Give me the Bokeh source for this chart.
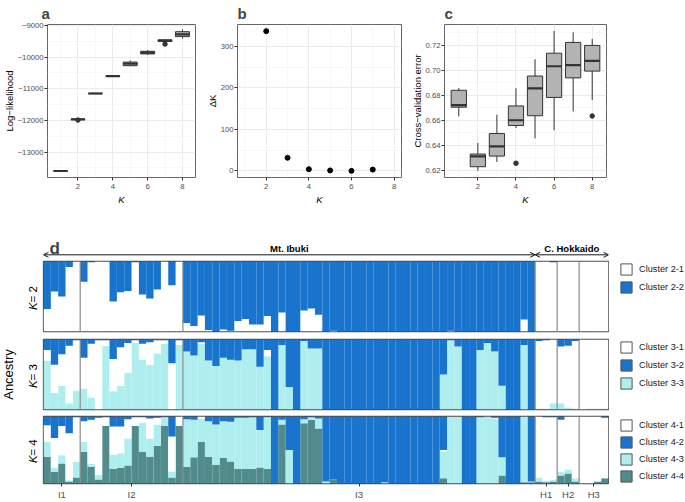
import math
import numpy as np
from bokeh.plotting import figure
from bokeh.models import (ColumnDataSource, FixedTicker, Label, Legend, LegendItem,
                          Arrow, OpenHead, Range1d, PrintfTickFormatter)
from bokeh.layouts import column, row
from bokeh.embed import file_html
from bokeh.resources import INLINE
from bokeh.core.properties import value

FONT = "Liberation Sans"

# ---------------- panel a: log-likelihood boxplots ----------------
K_vals = [1, 2, 3, 4, 5, 6, 7, 8]
ll_lo  = [-13615, -11985, -11165, -10618, -10290, -9920, -9515, -9413]
ll_q1  = [-13608, -11975, -11158, -10610, -10271, -9899, -9506, -9351]
ll_med = [-13600, -11966, -11150, -10602, -10209, -9858, -9475, -9279]
ll_q3  = [-13592, -11958, -11142, -10594, -10158, -9816, -9455, -9196]
ll_hi  = [-13585, -11950, -11135, -10586, -10106, -9780, -9445, -9124]
ll_out_k = [2, 7]
ll_out_v = [-11990, -9589]
ll_ticks = [-13000, -12000, -11000, -10000, -9000]
ll_minor = [-13500, -12500, -11500, -10500, -9500]
ll_labels = ["\u221213000", "\u221212000", "\u221211000", "\u221210000", "\u22129000"]

# ---------------- panel b: delta K ----------------
dk_k = [2, 3, 4, 5, 6, 7]
dk_v = [337, 31.6, 4, 1, 0, 3]

# ---------------- panel c: cross-validation error ----------------
cv_lo  = [0.6631, 0.6197, 0.6267, 0.6538, 0.6455, 0.6520, 0.6670, 0.6761]
cv_q1  = [0.6704, 0.6229, 0.6314, 0.6558, 0.6636, 0.6782, 0.6938, 0.6992]
cv_med = [0.6720, 0.6312, 0.6392, 0.6600, 0.6855, 0.7031, 0.7039, 0.7073]
cv_q3  = [0.6839, 0.6330, 0.6494, 0.6714, 0.6953, 0.7135, 0.7221, 0.7197]
cv_hi  = [0.6857, 0.6418, 0.6644, 0.6855, 0.7086, 0.7312, 0.7301, 0.7249]
cv_out_k = [4, 8]
cv_out_v = [0.6257, 0.6634]

# ---------------- panel d: ancestry proportions ----------------
pop_names = ["I1", "I2", "I3", "H1", "H2", "H3"]
pop_sizes = [5, 14, 48, 3, 3, 4]

# K = 2 : Cluster 2-1 (white), Cluster 2-2 (blue)
k2_c1 = ([0.32, 0.57, 0.50, 0.92, 1.00] +
         [0.71, 0.99, 1.00, 1.00, 0.43, 0.56, 0.58, 0.99, 0.53, 0.47, 0.60, 1.00, 0.66, 1.00] +
         [0.12, 0.08, 0.23, 0.02, 0.00, 0.03, 0.01, 0.15, 0.18, 0.10, 0.10, 0.22, 0.00, 0.27,
          0.00, 0.00, 0.30, 0.33, 0.24, 0.00, 0.01] + [0.00] * 15 + [0.01] + [0.00] * 9 + [0.17, 0.00] +
         [1.00, 1.00, 0.99] + [1.00, 1.00, 1.00] + [1.00, 1.00, 1.00, 1.00])
k2_c2 = ([0.68, 0.43, 0.50, 0.08, 0.00] +
         [0.29, 0.01, 0.00, 0.00, 0.57, 0.44, 0.42, 0.01, 0.47, 0.53, 0.40, 0.00, 0.34, 0.00] +
         [0.88, 0.92, 0.77, 0.98, 1.00, 0.97, 0.99, 0.85, 0.82, 0.90, 0.90, 0.78, 1.00, 0.73,
          1.00, 1.00, 0.70, 0.67, 0.76, 1.00, 0.99] + [1.00] * 15 + [0.99] + [1.00] * 9 + [0.83, 1.00] +
         [0.00, 0.00, 0.01] + [0.00, 0.00, 0.00] + [0.00, 0.00, 0.00, 0.00])

# K = 3 : Cluster 3-1 (white), 3-2 (blue), 3-3 (cyan)
k3_c3 = ([0.70, 0.24, 0.34, 0.09, 0.27] +
         [0.30, 0.17, 0.00, 0.91, 0.26, 0.34, 0.52, 0.95, 0.71, 0.64, 0.80, 0.94, 0.00, 0.92] +
         [0.83, 0.77, 0.94, 0.70, 0.62, 0.74, 0.71, 0.70, 0.86, 0.86, 0.61, 0.76, 0.00, 0.92,
          0.32, 0.00, 0.98, 0.87, 0.87] +
         [0.00] * 16 + [0.50, 0.99, 0.90, 0.00, 0.00, 0.85, 0.95, 0.82, 0.34, 0.00, 0.00, 0.92, 0.00] +
         [0.01, 0.01, 0.09] + [0.09, 0.03, 0.01] + [0.00, 0.01, 0.01, 0.01])
k3_c1 = ([0.15, 0.40, 0.45, 0.82, 0.72] +
         [0.44, 0.77, 0.99, 0.08, 0.46, 0.55, 0.43, 0.04, 0.23, 0.32, 0.19, 0.05, 0.66, 0.07] +
         [0.00, 0.00, 0.02, 0.00, 0.00, 0.00, 0.00, 0.00, 0.00, 0.00, 0.00, 0.09, 0.00, 0.00,
          0.00, 0.00, 0.00, 0.00, 0.00] +
         [0.00] * 16 + [0.00, 0.00, 0.00, 0.00, 0.00, 0.00, 0.00, 0.01, 0.00, 0.00, 0.00, 0.00, 0.00] +
         [0.97, 0.98, 0.91] + [0.81, 0.88, 0.97] + [1.00, 0.99, 0.99, 0.99])
k3_c2 = ([0.15, 0.36, 0.21, 0.09, 0.01] +
         [0.26, 0.06, 0.01, 0.01, 0.28, 0.11, 0.05, 0.01, 0.06, 0.04, 0.01, 0.01, 0.34, 0.01] +
         [0.17, 0.23, 0.04, 0.30, 0.38, 0.26, 0.29, 0.30, 0.14, 0.14, 0.39, 0.15, 1.00, 0.08,
          0.68, 1.00, 0.02, 0.13, 0.13] +
         [1.00] * 16 + [0.50, 0.01, 0.10, 1.00, 1.00, 0.15, 0.05, 0.17, 0.66, 1.00, 1.00, 0.08, 1.00] +
         [0.02, 0.01, 0.00] + [0.10, 0.09, 0.02] + [0.00, 0.00, 0.00, 0.00])

# K = 4 : Cluster 4-1 (white), 4-2 (blue), 4-3 (cyan), 4-4 (teal)
k4_c4 = ([0.40, 0.17, 0.30, 0.03, 0.09] +
         [0.47, 0.25, 0.06, 0.86, 0.22, 0.23, 0.27, 0.86, 0.47, 0.40, 0.56, 0.86, 0.09, 0.86] +
         [0.25, 0.39, 0.62, 0.40, 0.28, 0.38, 0.33, 0.22, 0.22, 0.22, 0.24, 0.22, 0.00, 0.88,
          0.00, 0.00, 0.90, 0.95, 0.82] +
         [0.00, 0.06, 0.00, 0.00, 0.00, 0.00, 0.00, 0.00, 0.00, 0.00, 0.00, 0.00, 0.00, 0.00,
          0.00, 0.00, 0.08, 0.00, 0.00, 0.00, 0.00, 0.00, 0.00, 0.00, 0.12, 0.00, 0.00, 0.02, 0.02] +
         [0.03, 0.02, 0.03] + [0.12, 0.15, 0.03] + [0.00, 0.00, 0.03, 0.08])
k4_c3 = ([0.22, 0.07, 0.12, 0.02, 0.23] +
         [0.15, 0.04, 0.07, 0.00, 0.21, 0.22, 0.40, 0.00, 0.44, 0.27, 0.32, 0.12, 0.09, 0.00] +
         [0.71, 0.56, 0.35, 0.53, 0.60, 0.55, 0.59, 0.76, 0.76, 0.77, 0.56, 0.76, 0.00, 0.07,
          0.50, 0.00, 0.06, 0.04, 0.15] +
         [0.03, 0.00, 0.00, 0.00, 0.00, 0.00, 0.00, 0.00, 0.02, 0.00, 0.00, 0.00, 0.00, 0.00,
          0.00, 0.00, 0.40, 1.00, 1.00, 0.00, 0.00, 0.99, 1.00, 0.97, 0.27, 0.00, 0.00, 0.98, 0.01] +
         [0.06, 0.02, 0.03] + [0.06, 0.06, 0.05] + [0.00, 0.00, 0.00, 0.00])
k4_c1 = ([0.25, 0.44, 0.44, 0.70, 0.67] +
         [0.31, 0.66, 0.85, 0.13, 0.42, 0.40, 0.29, 0.13, 0.08, 0.30, 0.10, 0.01, 0.52, 0.14] +
         [0.00, 0.00, 0.03, 0.00, 0.00, 0.00, 0.00, 0.00, 0.00, 0.00, 0.00, 0.01, 0.00, 0.00,
          0.00, 0.00, 0.00, 0.00, 0.00] +
         [0.00] * 16 + [0.02, 0.00, 0.00, 0.00, 0.00, 0.00, 0.00, 0.01, 0.00, 0.00, 0.00, 0.00, 0.00] +
         [0.91, 0.95, 0.93] + [0.77, 0.79, 0.92] + [1.00, 1.00, 0.97, 0.90])
k4_c2 = ([0.13, 0.32, 0.14, 0.25, 0.01] +
         [0.07, 0.05, 0.02, 0.01, 0.15, 0.15, 0.04, 0.01, 0.01, 0.03, 0.02, 0.01, 0.30, 0.00] +
         [0.04, 0.05, 0.00, 0.07, 0.12, 0.07, 0.08, 0.02, 0.02, 0.01, 0.20, 0.01, 1.00, 0.05,
          0.50, 1.00, 0.04, 0.01, 0.03] +
         [0.97, 0.94, 1.00, 1.00, 1.00, 1.00, 1.00, 1.00, 0.98, 1.00, 1.00, 1.00, 1.00, 1.00,
          1.00, 1.00, 0.50, 0.00, 0.00, 1.00, 1.00, 0.01, 0.00, 0.02, 0.61, 1.00, 1.00, 0.00, 0.97] +
         [0.00, 0.01, 0.01] + [0.05, 0.00, 0.00] + [0.00, 0.00, 0.00, 0.02])

WHITE, BLUE, CYAN, TEAL = "#FFFFFF", "#1874CD", "#AEEEEE", "#528B8B"

n_ind = sum(pop_sizes)
for arr in (k2_c1, k2_c2, k3_c1, k3_c2, k3_c3, k4_c1, k4_c2, k4_c3, k4_c4):
    assert len(arr) == n_ind, len(arr)
ind_x = [i + 0.5 for i in range(n_ind)]
bounds = [int(b) for b in np.cumsum(pop_sizes)]
pop_centers = [b - s / 2 for b, s in zip(bounds, pop_sizes)]

TOP_H = 207


# ---------------- helpers ----------------
def top_fig(width, mbl, mbr, xr, yr, yticks, yminor, ytitle, letter, loff):
    p = figure(width=width, height=TOP_H, x_range=Range1d(*xr), y_range=Range1d(*yr),
               output_backend="svg", toolbar_location=None, title=letter,
               min_border_left=mbl, min_border_right=mbr, min_border_top=23, min_border_bottom=28)
    p.title.text_font = FONT
    p.title.text_font_size = "15px"
    p.title.text_font_style = "bold"
    p.title.align = "left"
    p.title.offset = loff
    p.title.standoff = 5
    xt = FixedTicker(ticks=[2, 4, 6, 8], minor_ticks=[1, 3, 5, 7])
    yt = FixedTicker(ticks=yticks, minor_ticks=yminor)
    p.xaxis.ticker = xt
    p.xgrid.ticker = xt
    p.yaxis.ticker = yt
    p.ygrid.ticker = yt
    for g in (p.xgrid, p.ygrid):
        g.grid_line_color = "#EBEBEB"
        g.grid_line_width = 1
        g.minor_grid_line_color = "#F3F3F3"
        g.minor_grid_line_width = 0.7
    for ax in (p.xaxis, p.yaxis):
        ax.axis_line_color = None
        ax.major_tick_line_color = "#333333"
        ax.major_tick_out = 3
        ax.major_tick_in = 0
        ax.minor_tick_line_color = None
        ax.major_label_text_font = FONT
        ax.major_label_text_font_size = "7.7px"
        ax.major_label_text_color = "#4D4D4D"
        ax.major_label_standoff = 2
        ax.axis_label_text_font = FONT
        ax.axis_label_text_font_size = "9.5px"
        ax.axis_label_text_color = "#000000"
        ax.axis_label_standoff = 2
    p.yaxis.major_label_standoff = 0
    p.yaxis.axis_label_standoff = 0
    p.xaxis.axis_label = "K"
    p.xaxis.axis_label_text_font_style = "italic"
    p.yaxis.axis_label = ytitle
    p.yaxis.axis_label_text_font_style = "normal"
    p.outline_line_color = "#666666"
    p.outline_line_width = 1
    return p


def boxplot(p, ks, lo, q1, med, q3, hi, out_k, out_v, width=0.8):
    src = ColumnDataSource(dict(k=ks, lo=lo, q1=q1, med=med, q3=q3, hi=hi,
                                left=[k - width / 2 for k in ks], right=[k + width / 2 for k in ks]))
    p.segment(x0="k", y0="q3", x1="k", y1="hi", source=src, line_color="#333333", line_width=1)
    p.segment(x0="k", y0="lo", x1="k", y1="q1", source=src, line_color="#333333", line_width=1)
    p.vbar(x="k", width=width, top="q3", bottom="q1", source=src,
           fill_color="#B3B3B3", line_color="#333333", line_width=1)
    p.segment(x0="left", y0="med", x1="right", y1="med", source=src,
              line_color="#333333", line_width=2.2)
    p.scatter(out_k, out_v, size=4.5, color="#333333")


# ---------------- top row ----------------
pa = top_fig(203, 44, 8, (0.25, 8.75), (-13805, -8969), ll_ticks, ll_minor, "Log\u2212likelihood", "a", -6)
pa.yaxis.major_label_overrides = dict(zip(ll_ticks, ll_labels))
boxplot(pa, K_vals, ll_lo, ll_q1, ll_med, ll_q3, ll_hi, ll_out_k, ll_out_v)

pb = top_fig(205, 34, 7, (0.65, 8.35), (-16, 353), [0, 100, 200, 300], [50, 150, 250], "\u0394K", "b", 0)
pb.scatter(dk_k, dk_v, size=5, color="#000000")

pc = top_fig(277, 36, 79, (0.25, 8.75), (0.6143, 0.7364),
             [0.62, 0.64, 0.66, 0.68, 0.70, 0.72], [0.63, 0.65, 0.67, 0.69, 0.71, 0.73],
             "Cross\u2212validation error", "c", 0)
pc.yaxis.formatter = PrintfTickFormatter(format="%.2f")
boxplot(pc, K_vals, cv_lo, cv_q1, cv_med, cv_q3, cv_hi, cv_out_k, cv_out_v)

# ---------------- panel d header ----------------
HEAD_H = 52
ph = figure(width=685, height=HEAD_H, x_range=Range1d(0, n_ind), y_range=Range1d(0, HEAD_H),
            output_backend="svg", toolbar_location=None,
            min_border_left=43, min_border_right=77, min_border_top=0, min_border_bottom=0,
            x_axis_location=None, y_axis_location=None)
ph.grid.visible = False
ph.outline_line_color = None
ibuki_end = bounds[2]
for xs, xe in ((0, ibuki_end), (ibuki_end, n_ind)):
    ph.add_layout(Arrow(x_start=xs, y_start=4.7, x_end=xe, y_end=4.7,
                        start=OpenHead(size=5, line_width=1, line_color="#1A1A1A"),
                        end=OpenHead(size=5, line_width=1, line_color="#1A1A1A"),
                        line_width=1, line_color="#1A1A1A"))
ph.text(x=[ibuki_end / 2, (ibuki_end + n_ind) / 2], y=[11.3, 11.3], text=["Mt. Ibuki", "C. Hokkaido"],
        text_font=value(FONT), text_font_style="bold", text_font_size="9.5px",
        text_align="center", text_baseline="alphabetic", text_color="#000000")
ph.add_layout(Label(text="d", x=6, y=11.5, x_units="screen", y_units="data",
                    text_font=FONT, text_font_size="17px", text_font_style="bold",
                    text_align="left", text_baseline="alphabetic"))


# ---------------- panel d rows ----------------
def d_fig(height, mbt, mbb, with_axis):
    p = figure(width=567, height=height, x_range=Range1d(0, n_ind), y_range=Range1d(0, 1),
               output_backend="svg", toolbar_location=None,
               min_border_left=1, min_border_right=1, min_border_top=mbt, min_border_bottom=mbb,
               x_axis_location="below" if with_axis else None, y_axis_location=None)
    p.grid.visible = False
    p.outline_line_color = "#4D4D4D"
    p.outline_line_width = 1.3
    return p


def label_fig(height, mbt, mbb, kval, frame_h, ancestry=False):
    p = figure(width=42, height=height, x_range=Range1d(0, 42), y_range=Range1d(0, 1),
               output_backend="svg", toolbar_location=None,
               min_border_left=0, min_border_right=0, min_border_top=mbt, min_border_bottom=mbb,
               x_axis_location=None, y_axis_location=None)
    p.grid.visible = False
    p.outline_line_color = None
    fs = 11.5
    total = 2.363 * fs
    y0 = (frame_h / 2 - total / 2) / frame_h
    y1 = (frame_h / 2 - total / 2 + 0.667 * fs) / frame_h
    p.text(x=[32], y=[y0], text=["K"], angle=math.pi / 2, text_font=value(FONT),
           text_font_size=f"{fs}px", text_font_style="italic",
           text_align="left", text_baseline="middle", text_color="#000000")
    p.text(x=[32], y=[y1], text=[f" = {kval}"], angle=math.pi / 2, text_font=value(FONT),
           text_font_size=f"{fs}px", text_align="left", text_baseline="middle", text_color="#000000")
    if ancestry:
        p.text(x=[8], y=[0.5], text=["Ancestry"], angle=math.pi / 2, text_font=value(FONT),
               text_font_size="13px", text_align="center", text_baseline="middle", text_color="#000000")
    return p


def legend_fig(height, mbt, mbb, labels, colors, frame_h, spacing=4):
    # range chosen so the swatch-template glyphs (at x=y=5) stay outside the view;
    # only their legend entries are visible
    p = figure(width=76, height=height, x_range=Range1d(0, 1), y_range=Range1d(0, 1),
               output_backend="svg", toolbar_location=None,
               min_border_left=0, min_border_right=0, min_border_top=mbt, min_border_bottom=mbb,
               x_axis_location=None, y_axis_location=None)
    p.grid.visible = False
    p.outline_line_color = None
    items = []
    for lab, col in zip(labels, colors):
        r = p.rect(x=[5], y=[5], width=0.1, height=0.1, fill_color=col,
                   line_color="#555555", line_width=1)
        items.append(LegendItem(label=lab, renderers=[r]))
    gh = 14
    h = len(items) * gh + (len(items) - 1) * spacing
    leg = Legend(items=items, location=(10, max(frame_h - h - 1, 0)), orientation="vertical",
                 glyph_width=14, glyph_height=gh, label_height=gh, label_standoff=6, spacing=spacing,
                 padding=0, margin=0, border_line_color=None, background_fill_alpha=0,
                 label_text_font=FONT, label_text_font_size="9.2px", label_text_color="#1A1A1A")
    p.add_layout(leg)
    return p


def fill_row(p, stack_names, stack_data, colors):
    src = ColumnDataSource(dict(x=ind_x, **dict(zip(stack_names, stack_data))))
    p.vbar_stack(stack_names, x="x", width=1.0, fill_color=colors, line_color=None, source=src)
    sep = bounds[:-1]
    p.segment(x0=sep, y0=[0] * len(sep), x1=sep, y1=[1] * len(sep),
              line_color="#8C8C8C", line_width=1.2)


l2 = label_fig(76, 2, 4, 2, 70)
p2 = d_fig(76, 2, 4, False)
fill_row(p2, ["c2_1", "c2_2"], [k2_c1, k2_c2], [WHITE, BLUE])
g2 = legend_fig(76, 2, 4, ["Cluster 2-1", "Cluster 2-2"], [WHITE, BLUE], 70)

l3 = label_fig(78, 4, 4, 3, 70, ancestry=True)
p3 = d_fig(78, 4, 4, False)
fill_row(p3, ["c3_3", "c3_1", "c3_2"], [k3_c3, k3_c1, k3_c2], [CYAN, WHITE, BLUE])
g3 = legend_fig(78, 4, 4, ["Cluster 3-1", "Cluster 3-2", "Cluster 3-3"], [WHITE, BLUE, CYAN], 70)

l4 = label_fig(89, 3, 16, 4, 70)
p4 = d_fig(89, 3, 16, True)
fill_row(p4, ["c4_4", "c4_3", "c4_1", "c4_2"], [k4_c4, k4_c3, k4_c1, k4_c2], [TEAL, CYAN, WHITE, BLUE])
g4 = legend_fig(89, 3, 16, ["Cluster 4-1", "Cluster 4-2", "Cluster 4-3", "Cluster 4-4"],
                [WHITE, BLUE, CYAN, TEAL], 64, spacing=3)
p4.xaxis.ticker = FixedTicker(ticks=pop_centers)
p4.xaxis.major_label_overrides = {(int(c) if float(c).is_integer() else float(c)): nm
                                  for c, nm in zip(pop_centers, pop_names)}
p4.xaxis.axis_line_color = None
p4.xaxis.major_tick_out = 3
p4.xaxis.major_tick_in = 0
p4.xaxis.minor_tick_line_color = None
p4.xaxis.major_tick_line_color = "#333333"
p4.xaxis.major_label_text_font = FONT
p4.xaxis.major_label_text_font_size = "9.5px"
p4.xaxis.major_label_text_color = "#4D4D4D"
p4.xaxis.major_label_standoff = 2

layout = column(row(pa, pb, pc), ph, row(l2, p2, g2), row(l3, p3, g3), row(l4, p4, g4))
open("out.html", "w").write(file_html(layout, INLINE))
